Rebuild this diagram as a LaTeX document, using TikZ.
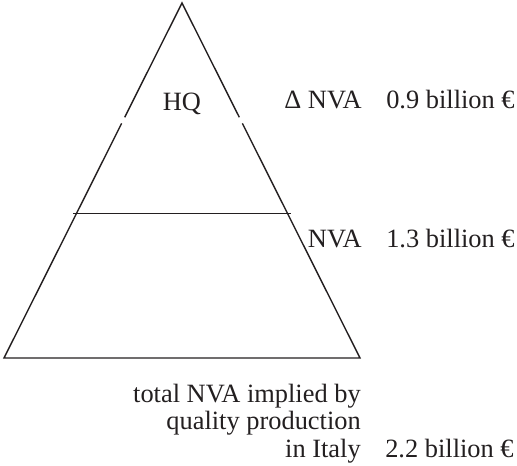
\documentclass[tikz,border=0pt]{standalone}
\usepackage{fontspec}
\setmainfont{Liberation Serif}
\usetikzlibrary{calc}
\definecolor{ink}{RGB}{35,31,32}
\begin{document}
\begin{tikzpicture}[x=0.75pt,y=-0.75pt,
  edge/.style={line width=1.05pt, draw=ink},
  txt/.style={inner sep=0pt, text=ink, font=\fontsize{19.8}{24}\selectfont},
  lbl/.style={txt, anchor=base east},
  val/.style={txt, anchor=base west}]
\useasboundingbox (0,0) rectangle (517,465);

% pyramid corners
\coordinate (apex) at (182,3);
\coordinate (bl) at (4,358);
\coordinate (br) at (360,358);

% small breaks in both sides at the HQ level
\coordinate (lu) at ($(apex)!0.322!(bl)$);
\coordinate (ll) at ($(apex)!0.339!(bl)$);
\coordinate (ru) at ($(apex)!0.322!(br)$);
\coordinate (rl) at ($(apex)!0.339!(br)$);

\draw[edge] (lu) -- (apex) -- (ru);
\draw[edge] (ll) -- (bl) -- (br) -- (rl);

% dividing line
\coordinate (dl) at (73,213.5);
\coordinate (dr) at (291,213.5);
\draw[edge] (dl) -- (dr);

% texts
\node[txt, anchor=base] (hq) at (182,110) {HQ};

\node[lbl] (dnva) at (362,108) {Δ NVA};
\node[val] (dval) at (386,108) {0.9 billion €};

\node[lbl] (nva) at (362,247) {NVA};
\node[val] (nval) at (386,247) {1.3 billion €};

\node[lbl] (t1) at (361,402) {total NVA implied by};
\node[lbl] (t2) at (361,429) {quality production};
\node[lbl] (t3) at (361,457) {in Italy};
\node[val] (tval) at (385,457) {2.2 billion €};
\end{tikzpicture}
\end{document}
